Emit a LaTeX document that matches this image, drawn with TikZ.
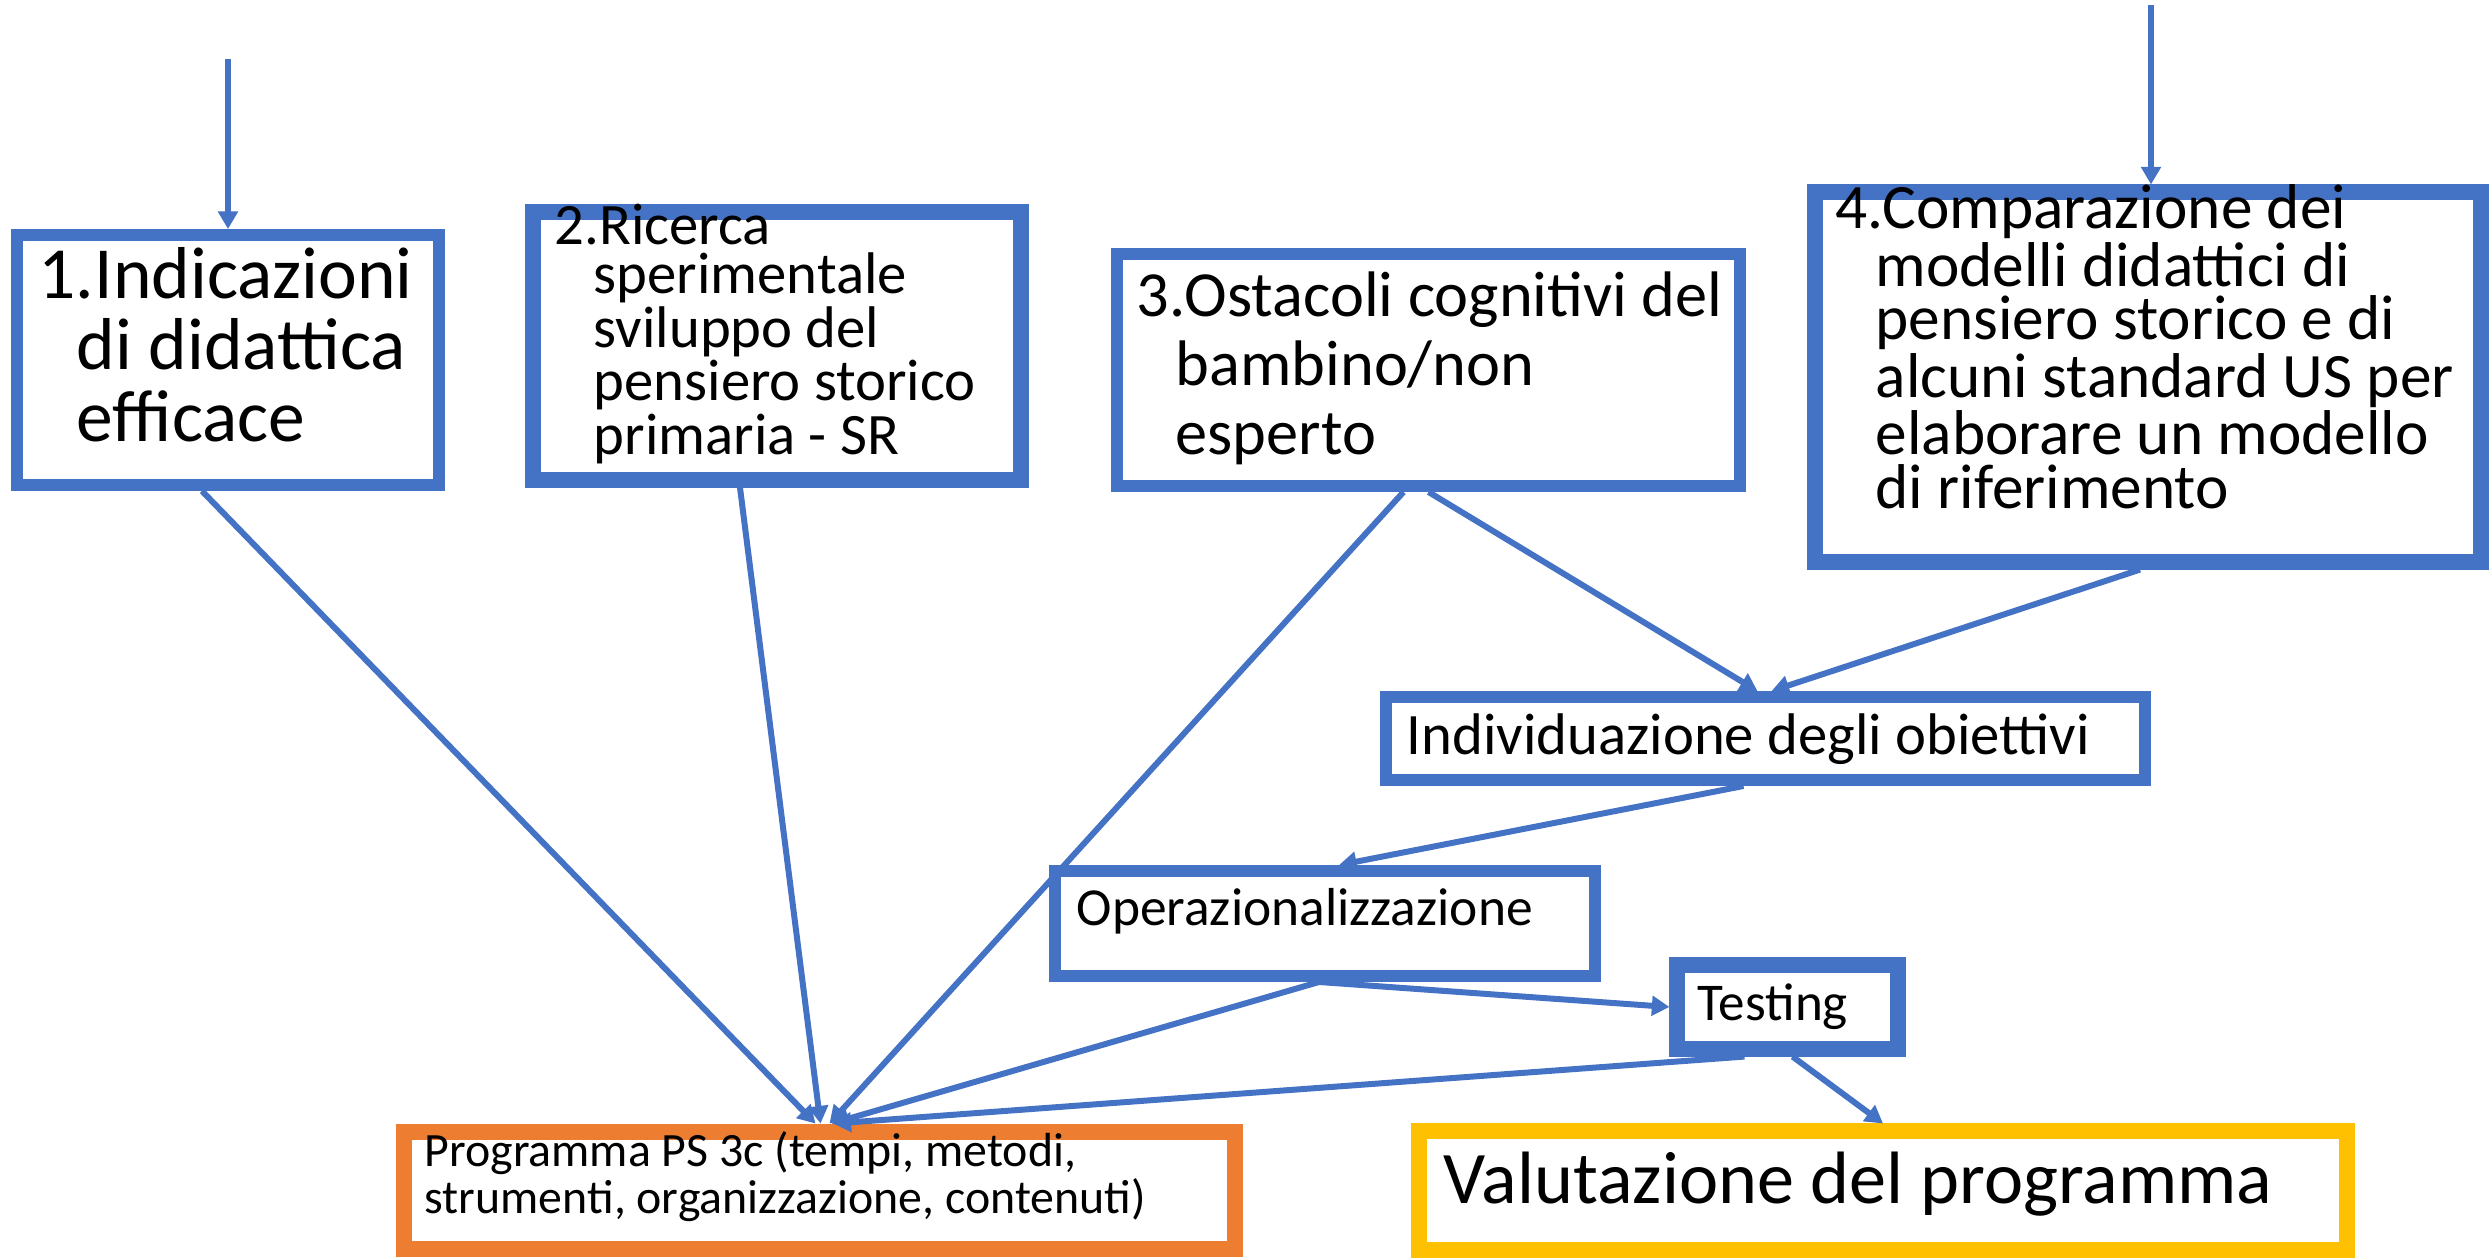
\documentclass[tikz,border=0pt]{standalone}
\usepackage{fontspec}
\setmainfont{Carlito}
\usetikzlibrary{calc,arrows.meta,fit}
\definecolor{boxblue}{HTML}{4472C4}
\definecolor{progorange}{HTML}{ED7D31}
\definecolor{valgold}{HTML}{FFC000}

\begin{document}
\begin{tikzpicture}[x=0.01cm,y=-0.01cm,
		box/.style={draw=boxblue,fill=white,line width=3.4pt,inner sep=0pt},
		txt/.style={anchor=base west,align=left,inner sep=0pt},
		arr/.style={draw=boxblue,line width=1.7pt,-{Triangle[length=5pt,width=5.5pt]}}]
			\useasboundingbox (0,0) rectangle (2491,1257);
			% boxes
			\node[box,fit={(17,235) (439,485)}] (indic) {};
			\node[box,line width=4.3pt,fit={(533,212) (1021,480)}] (ricerca) {};
			\node[box,fit={(1117,254) (1740,486)}] (ostacoli) {};
			\node[box,line width=4.3pt,fit={(1815,192) (2481,562)}] (compar) {};
			\node[box,fit={(1386,697) (2145,780)}] (obiett) {};
			\node[box,fit={(1055,871) (1595,976)}] (operaz) {};
			\node[box,line width=4.3pt,fit={(1677,965) (1898,1049)}] (testing) {};
			\node[box,draw=progorange,line width=4.8pt,fit={(404,1132) (1235,1249)}] (progr) {};
			\node[box,draw=valgold,line width=4.3pt,fit={(1419,1131) (2347,1250)}] (valut) {};
			% texts (base = last line)
			\node[txt,font=\fontsize{20.9}{20.3}\selectfont] (indictxt) at (38,441)
				{1.Indicazioni\\\hspace*{0.38cm}di didattica\\\hspace*{0.38cm}efficace};
			\node[txt,font=\fontsize{16.7}{13.9}\selectfont] (ricercatxt) at (554,454)
				{2.Ricerca\\\hspace*{0.39cm}sperimentale\\\hspace*{0.39cm}sviluppo del\\\hspace*{0.39cm}pensiero storico\\\hspace*{0.39cm}primaria - SR};
			\node[txt,font=\fontsize{18.3}{19.6}\selectfont] (ostacolitxt) at (1136,454)
				{3.Ostacoli cognitivi del\\\hspace*{0.39cm}bambino/non\\\hspace*{0.39cm}esperto};
			\node[txt,font=\fontsize{18}{15.1}\selectfont] (comparetxt) at (1835,508)
				{4.Comparazione dei\\\hspace*{0.4cm}modelli didattici di\\\hspace*{0.4cm}pensiero storico e di\\\hspace*{0.4cm}alcuni standard US per\\\hspace*{0.4cm}elaborare un modello\\\hspace*{0.4cm}di riferimento};
			\node[txt,font=\fontsize{16.7}{19}\selectfont] (obietttxt) at (1406,754) {Individuazione degli obiettivi};
			\node[txt,font=\fontsize{15.2}{18}\selectfont] (operaztxt) at (1076,925) {Operazionalizzazione};
			\node[txt,font=\fontsize{15.1}{17}\selectfont] (testingtxt) at (1697,1020) {Testing};
			\node[txt,font=\fontsize{13.6}{10.8}\selectfont] (progrtxt) at (424,1213)
				{Programma PS 3c (tempi, metodi,\\strumenti, organizzazione, contenuti)};
			\node[txt,font=\fontsize{21.1}{24}\selectfont] (valuttxt) at (1443,1203) {Valutazione del programma};
			% connectors
			\coordinate (inA) at (228,59);
			\coordinate (inB) at (2151,5);
			\draw[arr] (inA) -- (inA |- indic.north);
			\draw[arr] (inB) -- (inB |- compar.north);
			\draw[arr] ($(indic.south)+(-26,0)$) -- ($(progr.north)+(-4,0)$);
			\draw[arr] ($(ricerca.south)+(-37,0)$) -- ($(progr.north)+(1,0)$);
			\draw[arr] ($(ostacoli.south)+(-25,0)$) -- ($(progr.north)+(10,0)$);
			\draw[arr] (ostacoli.south) -- ($(obiett.north)+(-8,0)$);
			\draw[arr] ($(compar.south)+(-8,0)$) -- ($(obiett.north)+(6,0)$);
			\draw[arr] ($(obiett.south)+(-22,0)$) -- ($(operaz.north)+(14,0)$);
			\draw[arr] ($(operaz.south)+(-6,0)$) -- ($(progr.north)+(12,0)$);
			\draw[arr] ($(operaz.south)+(-6,0)$) -- (testing.west);
			\draw[arr] ($(testing.south)+(-43,0)$) -- ($(progr.north)+(14,0)$);
			\draw[arr] ($(testing.south)+(5,0)$) -- (valut.north);
		\end{tikzpicture}
\end{document}
